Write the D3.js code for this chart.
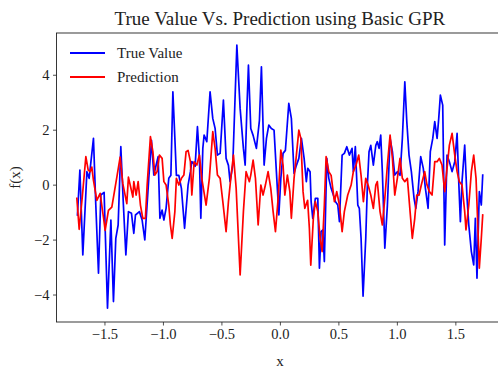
<!DOCTYPE html>
<html>
<head>
<meta charset="utf-8">
<script src="https://cdn.jsdelivr.net/npm/d3@7"></script>
<style>
  html, body { margin: 0; padding: 0; background: #fff; }
  svg { display: block; font-family: "Liberation Serif", "Times New Roman", serif; }
</style>
</head>
<body>
<svg id="chart" width="498" height="368"></svg>
<script>
// Ground truth samples (x, f(x))
const trueX = [-1.731,-1.710,-1.685,-1.650,-1.631,-1.594,-1.574,-1.551,-1.531,-1.503,-1.474,-1.445,-1.423,-1.403,-1.383,-1.360,-1.338,-1.317,-1.295,-1.269,-1.249,-1.235,-1.201,-1.178,-1.155,-1.121,-1.098,-1.078,-1.058,-1.041,-1.026,-1.007,-0.992,-0.973,-0.950,-0.932,-0.915,-0.898,-0.885,-0.864,-0.842,-0.815,-0.785,-0.765,-0.753,-0.739,-0.725,-0.705,-0.688,-0.676,-0.659,-0.648,-0.625,-0.597,-0.574,-0.554,-0.534,-0.511,-0.483,-0.460,-0.440,-0.426,-0.403,-0.368,-0.340,-0.312,-0.297,-0.283,-0.269,-0.249,-0.229,-0.201,-0.175,-0.158,-0.135,-0.115,-0.095,-0.073,-0.050,-0.030,-0.009,0.008,0.027,0.047,0.076,0.098,0.121,0.141,0.162,0.184,0.207,0.226,0.238,0.258,0.267,0.281,0.303,0.324,0.338,0.352,0.367,0.380,0.401,0.418,0.438,0.457,0.474,0.495,0.509,0.532,0.551,0.572,0.594,0.617,0.628,0.645,0.666,0.679,0.694,0.711,0.734,0.748,0.762,0.777,0.799,0.820,0.833,0.848,0.862,0.876,0.897,0.919,0.942,0.962,0.982,1.004,1.027,1.047,1.068,1.085,1.104,1.124,1.147,1.162,1.181,1.204,1.226,1.244,1.267,1.286,1.307,1.324,1.344,1.358,1.372,1.392,1.409,1.429,1.449,1.472,1.495,1.515,1.529,1.543,1.557,1.580,1.600,1.615,1.637,1.657,1.671,1.685,1.705,1.722,1.734];
const trueY = [-1.105,0.531,-2.560,0.473,0.229,1.684,-0.742,-3.225,-0.378,-0.280,-4.498,-1.287,-4.255,-1.953,-1.469,1.382,-0.742,-2.560,-0.982,-1.044,-1.771,-1.105,-0.982,-1.287,-2.015,0.229,1.611,0.349,0.713,1.018,-1.225,-0.924,-1.287,-0.862,0.229,0.338,3.382,1.684,0.338,0.338,-0.135,-1.589,-0.015,0.473,0.836,0.775,0.665,2.109,0.956,-1.225,1.320,1.804,1.564,3.382,2.411,2.047,1.076,1.138,3.076,0.956,0.702,0.109,0.702,5.076,2.775,1.320,0.713,2.665,4.349,2.047,1.793,1.320,2.338,4.291,0.713,1.684,2.167,2.047,1.985,0.473,-1.105,0.229,1.138,1.247,2.956,2.411,0.411,0.702,0.956,1.684,0.956,0.109,0.593,0.473,-0.618,-1.225,-0.498,-0.498,-3.044,-1.709,-1.651,-2.800,0.956,0.229,-0.135,-0.378,-0.618,-0.742,-1.345,1.076,1.138,1.382,1.076,1.320,0.473,1.382,-0.742,-0.862,-1.953,-4.062,-1.953,-0.015,1.200,1.429,0.713,1.429,1.564,1.320,1.804,0.473,-2.316,-0.753,1.684,1.200,0.349,0.473,0.338,1.684,3.745,2.291,1.076,0.473,-0.498,-0.862,-0.255,1.018,0.593,-0.135,-0.862,1.200,1.684,2.291,1.684,2.411,3.258,2.895,-2.196,1.076,0.836,0.473,0.836,1.865,0.109,-1.345,0.109,1.440,-0.498,-1.469,-2.436,-2.924,-1.225,-3.407,-0.255,-0.742,0.349];

// GPR prediction (x, f(x))
const predX = [-1.736,-1.716,-1.688,-1.659,-1.639,-1.622,-1.608,-1.594,-1.565,-1.537,-1.509,-1.494,-1.466,-1.437,-1.394,-1.366,-1.343,-1.309,-1.295,-1.257,-1.249,-1.229,-1.212,-1.192,-1.172,-1.150,-1.135,-1.107,-1.086,-1.069,-1.050,-1.030,-1.007,-0.992,-0.973,-0.950,-0.936,-0.921,-0.898,-0.885,-0.864,-0.842,-0.821,-0.802,-0.785,-0.765,-0.753,-0.733,-0.710,-0.688,-0.668,-0.631,-0.603,-0.574,-0.554,-0.534,-0.511,-0.488,-0.460,-0.440,-0.420,-0.397,-0.374,-0.340,-0.312,-0.289,-0.261,-0.249,-0.229,-0.209,-0.186,-0.163,-0.144,-0.124,-0.101,-0.078,-0.058,-0.038,-0.015,0.008,0.027,0.042,0.064,0.085,0.098,0.121,0.141,0.162,0.179,0.198,0.213,0.237,0.252,0.264,0.286,0.303,0.324,0.344,0.361,0.380,0.395,0.418,0.438,0.452,0.466,0.486,0.509,0.532,0.551,0.580,0.609,0.628,0.651,0.674,0.694,0.714,0.734,0.754,0.777,0.799,0.820,0.833,0.856,0.876,0.897,0.919,0.942,0.962,0.982,1.004,1.027,1.047,1.068,1.090,1.113,1.132,1.153,1.170,1.190,1.209,1.238,1.258,1.278,1.301,1.324,1.344,1.363,1.386,1.409,1.429,1.449,1.472,1.495,1.515,1.534,1.557,1.580,1.591,1.615,1.637,1.657,1.677,1.694,1.705,1.722,1.734];
const predY = [-0.498,-1.625,-0.378,1.018,0.531,0.473,0.640,0.156,-0.571,-0.316,-1.178,-1.662,-0.935,-0.815,0.276,1.004,0.036,-0.691,0.276,-0.451,0.109,-0.378,0.109,-0.753,-1.225,-1.225,-0.015,1.745,1.200,0.349,0.473,1.076,0.956,0.109,-0.015,-0.742,-1.469,-1.953,-0.982,0.229,-0.015,0.229,0.349,1.200,1.247,0.836,-0.378,0.836,0.713,1.076,0.229,-0.742,0.229,1.927,1.320,0.349,0.229,-0.618,-1.709,-0.618,0.229,1.076,-0.135,-3.287,-0.982,0.473,0.109,0.349,0.895,0.229,-1.469,-0.015,-0.378,-0.015,0.473,-0.135,-0.982,-1.709,-0.498,1.258,0.713,-0.378,0.349,-0.255,-1.225,0.229,1.076,1.985,1.684,-0.255,-0.862,-0.571,-1.589,-2.935,-1.225,-0.618,-0.982,-1.953,-2.436,-0.742,1.018,0.473,0.338,-0.135,-0.618,-0.255,-0.742,-1.709,-0.982,-0.378,-0.015,0.473,0.713,1.076,0.338,-0.618,0.229,-0.015,-0.378,-0.862,-0.015,0.109,-0.982,-1.469,-0.498,0.713,1.804,0.956,-0.378,0.229,0.956,0.229,0.109,0.229,-0.982,-1.953,-1.225,-0.378,-0.378,-0.015,0.473,-0.015,-0.255,-0.378,0.836,0.836,0.956,0.713,-0.255,0.593,1.440,1.865,1.076,0.473,0.109,-0.015,-0.982,-1.651,-0.742,0.473,1.076,0.229,-1.709,-3.044,-1.953,-1.105];

const xTicks = [-1.5, -1.0, -0.5, 0.0, 0.5, 1.0, 1.5];
const yTicks = [-4, -2, 0, 2, 4];

const series = [
  { name: "True Value", xs: trueX, ys: trueY, color: "#0000ff" },
  { name: "Prediction", xs: predX, ys: predY, color: "#ff0000" }
];

const svg = d3.select("#chart");
const plotLeft = 56.5, plotRight = 503.3, plotTop = 33, plotBottom = 322;

const x = d3.scaleLinear().domain([-1.91, 1.91]).range([plotLeft, plotRight]);
const y = d3.scaleLinear().domain([-5.0, 5.52]).range([plotBottom, plotTop]);

// Series lines
const line = d3.line().x(d => x(d[0])).y(d => y(d[1]));
series.forEach(s => {
  const pts = s.xs.map((v, i) => [v, s.ys[i]]);
  svg.append("path")
    .datum(pts)
    .attr("d", line)
    .attr("fill", "none")
    .attr("stroke", s.color)
    .attr("stroke-width", 1.7)
    .attr("stroke-linejoin", "round")
    .attr("stroke-linecap", "square");
});

// Axes
const fmtX = d => d3.format(".1f")(d).replace("-", "\u2212");
const fmtY = d => String(d).replace("-", "\u2212");

const xAxis = svg.append("g")
  .attr("transform", `translate(0,${plotBottom})`)
  .call(d3.axisBottom(x).tickValues(xTicks).tickFormat(fmtX).tickSize(3.5).tickPadding(3.5));
const yAxis = svg.append("g")
  .attr("transform", `translate(${plotLeft},0)`)
  .call(d3.axisLeft(y).tickValues(yTicks).tickFormat(fmtY).tickSize(3.5).tickPadding(3.5));

[xAxis, yAxis].forEach(g => {
  g.select(".domain").remove();
  g.selectAll(".tick line").attr("stroke", "#222").attr("stroke-width", 0.8);
  g.selectAll(".tick text")
    .attr("fill", "#222")
    .style("font-family", '"Liberation Serif", serif')
    .style("font-size", "14.5px");
});

// Frame
svg.append("rect")
  .attr("x", plotLeft).attr("y", plotTop)
  .attr("width", plotRight - plotLeft).attr("height", plotBottom - plotTop)
  .attr("fill", "none").attr("stroke", "#222").attr("stroke-width", 0.9);

// Title and axis labels
svg.append("text")
  .attr("x", (plotLeft + plotRight) / 2).attr("y", 25)
  .attr("text-anchor", "middle")
  .attr("fill", "#222")
  .style("font-size", "19px")
  .text("True Value Vs. Prediction using Basic GPR");

svg.append("text")
  .attr("x", (plotLeft + plotRight) / 2).attr("y", 366)
  .attr("text-anchor", "middle")
  .attr("fill", "#222")
  .style("font-size", "15px")
  .text("x");

svg.append("text")
  .attr("transform", `translate(20,${(plotTop + plotBottom) / 2}) rotate(-90)`)
  .attr("text-anchor", "middle")
  .attr("fill", "#222")
  .style("font-size", "15px")
  .text("f(x)");

// Legend
const legend = svg.append("g").attr("transform", "translate(70,53)");
series.forEach((s, i) => {
  const row = legend.append("g").attr("transform", `translate(0,${i * 24})`);
  row.append("line")
    .attr("x1", 0).attr("x2", 35).attr("y1", 0).attr("y2", 0)
    .attr("stroke", s.color).attr("stroke-width", 1.8);
  row.append("text")
    .attr("x", 47).attr("y", 5)
    .attr("fill", "#222")
    .style("font-size", "15px")
    .text(s.name);
});
</script>
</body>
</html>
